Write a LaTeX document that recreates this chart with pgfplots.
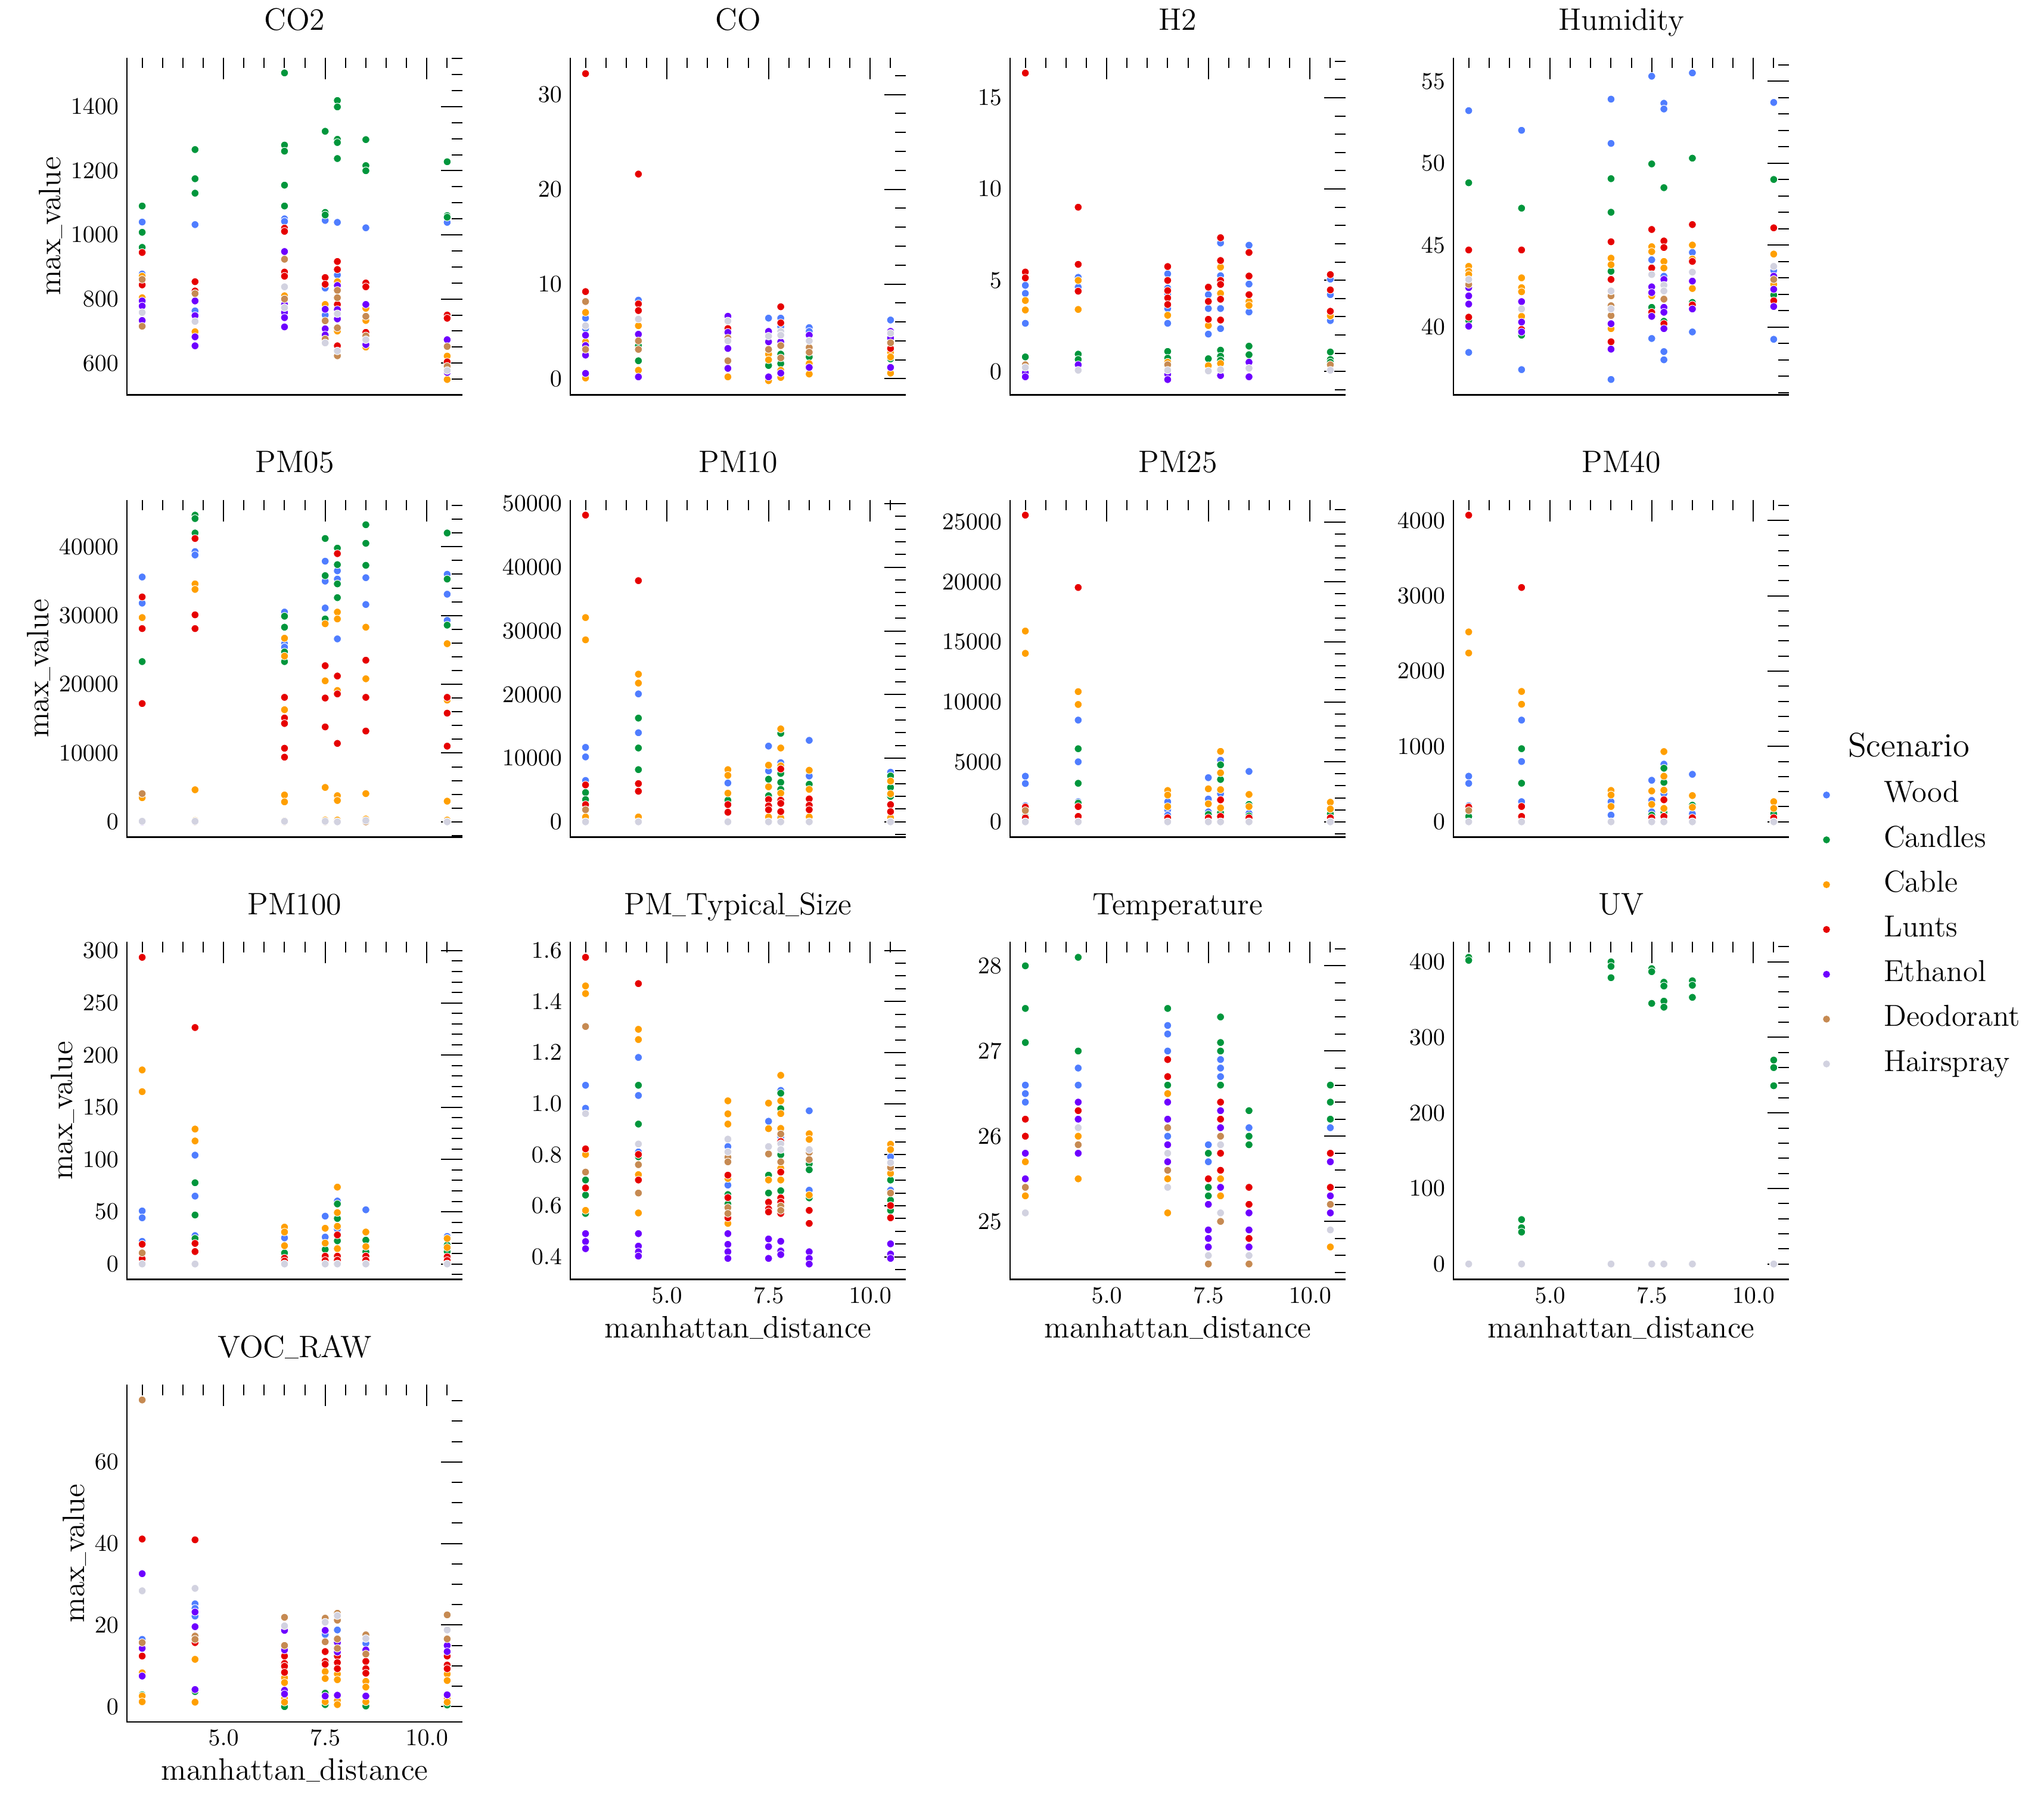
\documentclass[border=0pt]{standalone}
\usepackage{graphicx}
\usepackage{pgfplots}
\pgfplotsset{compat=1.18}
\newcommand{\us}{\raisebox{0.08em}{\scalebox{0.6}[1]{\_}}}
\definecolor{cWood}{HTML}{4F7DFF}
\definecolor{cCand}{HTML}{00963C}
\definecolor{cCable}{HTML}{FF9F00}
\definecolor{cLunts}{HTML}{E60000}
\definecolor{cEth}{HTML}{6E00FF}
\definecolor{cDeo}{HTML}{C68A52}
\definecolor{cHair}{HTML}{D2D2E0}
\pgfplotsset{
  sc/.style={only marks, mark=*, mark size=1.6pt, color=#1, mark options={fill=#1, draw=white, line width=0.25pt}},
  leg/.style={legend image code/.code={\fill[#1] (4pt,0pt) circle (1.25pt); \path[draw=none,fill=none] (0pt,0pt) -- (28pt,0pt);}},
  panel/.style={
    scale only axis, width=140.75pt, height=141.5pt, anchor=north west,
    xmin=2.625, xmax=10.875,
    xtick={5,7.5,10}, minor xtick={3,3.5,...,10.5},
    xtick pos=right, ytick pos=right, xticklabel pos=left, yticklabel pos=left,
    tick align=inside, major tick length=9pt, minor tick length=4.4pt,
    every tick/.append style={black, line width=0.5pt},
    axis line style={draw=none},
    tick label style={font=\fontsize{10}{12}\selectfont},
    title style={font=\fontsize{13}{15}\selectfont, at={(0.5,1)}, anchor=base, yshift=5.5pt},
    label style={font=\fontsize{13}{15}\selectfont},
    ylabel style={inner sep=0pt},
    xlabel style={at={(axis description cs:0.5,0)}, anchor=base, yshift=-24.4pt},
    xticklabel style={/pgf/number format/fixed, /pgf/number format/fixed zerofill, /pgf/number format/precision=1},
    scaled ticks=false,
    /pgf/number format/1000 sep={},
    after end axis/.code={\draw[black, line width=0.6pt] (rel axis cs:0,1) -- (rel axis cs:0,0) -- (rel axis cs:1,0);},
  },
  nox/.style={xticklabels={}},
}
\begin{document}
\begin{tikzpicture}
\useasboundingbox (0,0) rectangle (857.5pt,-756pt);
% ---------------- CO2
\begin{axis}[panel, nox, at={(53.25pt,-24.125pt)}, title={CO2}, ylabel={max\us value},
  ymin=501, ymax=1553, ytick={600,800,...,1400}, minor ytick={550,600,...,1550}]
\addplot[sc=cWood] coordinates {(3,1040)(3,878)(4.3,1032)(4.3,763)(6.5,1050)(6.5,1042)(7.5,1045)(7.5,834)(7.5,750)(7.8,1039)(7.8,875)(8.5,1022)(10.5,1039)};
\addplot[sc=cCand] coordinates {(3,1090)(3,1008)(3,961)(4.3,1266)(4.3,1175)(4.3,1130)(6.5,1505)(6.5,1280)(6.5,1261)(6.5,1155)(6.5,1090)(7.5,1323)(7.5,1070)(7.5,1062)(7.8,1419)(7.8,1399)(7.8,1298)(7.8,1288)(7.8,1238)(8.5,1297)(8.5,1216)(8.5,1200)(10.5,1228)(10.5,1060)(10.5,1055)};
\addplot[sc=cCable] coordinates {(3,871)(3,804)(4.3,698)(6.5,810)(7.5,783)(7.8,854)(7.8,700)(8.5,771)(8.5,733)(8.5,650)(10.5,622)(10.5,549)};
\addplot[sc=cLunts] coordinates {(3,945)(3,844)(4.3,854)(4.3,825)(6.5,1021)(6.5,1011)(6.5,884)(6.5,871)(7.5,867)(7.5,846)(7.8,917)(7.8,892)(7.8,783)(7.8,654)(8.5,850)(8.5,838)(8.5,696)(10.5,750)(10.5,740)(10.5,604)};
\addplot[sc=cEth] coordinates {(3,794)(3,778)(3,733)(4.3,794)(4.3,748)(4.3,682)(4.3,654)(6.5,948)(6.5,783)(6.5,758)(6.5,742)(6.5,713)(7.5,768)(7.5,707)(7.5,688)(7.8,842)(7.8,767)(7.8,738)(8.5,783)(8.5,658)(10.5,673)(10.5,571)};
\addplot[sc=cDeo] coordinates {(3,861)(3,715)(4.3,817)(6.5,924)(6.5,800)(7.5,732)(7.5,675)(7.8,827)(7.8,804)(7.8,710)(7.8,623)(8.5,746)(8.5,685)(10.5,652)(10.5,590)};
\addplot[sc=cHair] coordinates {(3,758)(4.3,730)(6.5,838)(6.5,773)(7.5,663)(7.8,754)(7.8,638)(8.5,673)(10.5,577)};
\end{axis}
% ---------------- CO
\begin{axis}[panel, nox, at={(239.25pt,-24.125pt)}, title={CO},
  ymin=-1.7, ymax=33.9, ytick={0,10,20,30}, minor ytick={0,2,...,32}]
\addplot[sc=cWood] coordinates {(3,6.4)(3,5.3)(4.3,8.3)(7.5,6.4)(7.8,6.4)(7.8,5.5)(8.5,5.4)(8.5,5.0)(10.5,6.2)};
\addplot[sc=cCand] coordinates {(4.3,3.5)(4.3,1.9)(7.5,1.4)(7.8,2.6)(7.8,1.6)(8.5,2.3)(10.5,2.1)};
\addplot[sc=cCable] coordinates {(3,7.0)(3,3.9)(3,0.08)(4.3,5.6)(4.3,0.9)(6.5,0.2)(7.5,2.6)(7.5,2.0)(7.5,-0.2)(7.8,0.9)(7.8,0.14)(8.5,1.6)(8.5,0.5)(10.5,2.8)(10.5,2.3)(10.5,0.6)};
\addplot[sc=cLunts] coordinates {(3,32.2)(3,9.2)(4.3,21.6)(4.3,7.9)(4.3,7.2)(6.5,5.3)(7.8,7.6)(7.8,5.9)(10.5,3.2)};
\addplot[sc=cEth] coordinates {(3,4.6)(3,3.5)(3,2.5)(3,0.57)(4.3,4.7)(4.3,0.2)(6.5,6.6)(6.5,4.9)(6.5,3.2)(6.5,1.1)(7.5,5.0)(7.5,3.9)(7.5,0.2)(7.8,3.9)(7.8,0.6)(8.5,4.6)(8.5,1.2)(10.5,5.0)(10.5,4.3)(10.5,1.2)};
\addplot[sc=cDeo] coordinates {(3,8.15)(3,3.1)(4.3,4.0)(4.3,3.1)(6.5,4.3)(6.5,1.9)(7.5,3.1)(7.8,3.5)(7.8,2.2)(8.5,3.3)(8.5,2.8)(10.5,3.8)};
\addplot[sc=cHair] coordinates {(3,5.6)(4.3,6.3)(6.5,6.1)(6.5,4.0)(7.5,4.5)(7.8,5.0)(7.8,4.6)(8.5,4.0)(10.5,4.8)};
\end{axis}
% ---------------- H2
\begin{axis}[panel, nox, at={(423.75pt,-24.125pt)}, title={H2},
  ymin=-1.28, ymax=17.2, ytick={0,5,10,15}, minor ytick={-1,0,...,17}]
\addplot[sc=cWood] coordinates {(3,4.72)(3,4.28)(3,2.64)(4.3,5.16)(4.3,4.62)(6.5,5.35)(6.5,4.57)(6.5,4.25)(6.5,3.45)(6.5,2.64)(7.5,4.21)(7.5,3.45)(7.5,2.05)(7.8,7.04)(7.8,5.25)(7.8,3.45)(7.8,2.35)(8.5,6.92)(8.5,4.79)(8.5,3.26)(10.5,5.06)(10.5,4.21)(10.5,2.79)};
\addplot[sc=cCand] coordinates {(3,0.8)(4.3,0.95)(4.3,0.66)(6.5,1.1)(6.5,0.73)(7.5,0.7)(7.8,1.17)(7.8,0.84)(7.8,0.62)(8.5,1.39)(8.5,0.92)(10.5,1.07)(10.5,0.66)(10.5,0.51)};
\addplot[sc=cCable] coordinates {(3,3.89)(3,3.37)(4.3,4.99)(4.3,3.4)(6.5,3.08)(6.5,0.51)(7.5,2.52)(7.5,0.32)(7.8,5.72)(7.8,4.28)(7.8,0.44)(8.5,3.84)(8.5,3.62)(10.5,3.05)};
\addplot[sc=cLunts] coordinates {(3,16.35)(3,5.45)(3,5.13)(4.3,9.0)(4.3,5.87)(4.3,4.4)(6.5,5.75)(6.5,4.99)(6.5,4.43)(6.5,4.03)(6.5,3.67)(7.5,4.62)(7.5,3.84)(7.5,2.86)(7.8,7.33)(7.8,6.08)(7.8,4.99)(7.8,4.77)(7.8,3.96)(7.8,2.82)(8.5,6.52)(8.5,5.23)(8.5,4.21)(10.5,5.31)(10.5,4.47)(10.5,3.3)};
\addplot[sc=cEth] coordinates {(3,-0.07)(3,-0.29)(4.3,0.37)(6.5,-0.15)(6.5,-0.44)(7.8,-0.22)(8.5,0.51)(8.5,-0.29)};
\addplot[sc=cDeo] coordinates {(3,0.37)(6.5,0.37)(10.5,0.37)};
\addplot[sc=cHair] coordinates {(3,0.22)(4.3,0.07)(6.5,0.07)(7.5,0.03)(7.8,0.1)(8.5,0.18)(10.5,0.07)};
\end{axis}
% ---------------- Humidity
\begin{axis}[panel, nox, at={(609.75pt,-24.125pt)}, title={Humidity},
  ymin=35.86, ymax=56.44, ytick={40,45,50,55}, minor ytick={36,37,...,56}]
\addplot[sc=cWood] coordinates {(3,53.2)(3,38.45)(4.3,52.0)(4.3,37.4)(6.5,53.9)(6.5,51.2)(6.5,36.8)(7.5,55.3)(7.5,44.1)(7.5,39.3)(7.8,53.65)(7.8,53.3)(7.8,43.1)(7.8,38.5)(7.8,38.0)(8.5,55.5)(8.5,44.55)(8.5,39.7)(10.5,53.7)(10.5,43.45)(10.5,39.25)};
\addplot[sc=cCand] coordinates {(3,48.8)(3,40.4)(4.3,47.25)(4.3,39.5)(6.5,49.05)(6.5,47.0)(6.5,43.4)(7.5,49.95)(7.5,41.2)(7.8,48.5)(7.8,40.35)(8.5,50.3)(8.5,41.5)(10.5,49.0)(10.5,41.95)};
\addplot[sc=cCable] coordinates {(3,43.7)(3,43.4)(3,43.2)(4.3,43.0)(4.3,42.4)(4.3,42.15)(4.3,40.65)(6.5,44.2)(6.5,43.8)(6.5,39.9)(7.5,44.9)(7.5,44.6)(7.5,41.9)(7.8,44.0)(7.8,43.6)(8.5,45.0)(8.5,44.15)(8.5,42.35)(10.5,44.45)(10.5,42.6)};
\addplot[sc=cLunts] coordinates {(3,44.7)(3,40.6)(4.3,44.7)(4.3,39.85)(6.5,45.2)(6.5,42.9)(6.5,39.1)(7.5,45.95)(7.5,43.6)(7.5,40.9)(7.8,45.25)(7.8,44.85)(7.8,40.2)(8.5,46.25)(8.5,44.0)(8.5,41.35)(10.5,46.05)(10.5,41.6)};
\addplot[sc=cEth] coordinates {(3,42.4)(3,41.9)(3,41.4)(3,40.05)(4.3,41.55)(4.3,40.3)(4.3,39.7)(6.5,40.2)(6.5,38.65)(7.5,42.45)(7.5,42.1)(7.5,40.65)(7.8,42.9)(7.8,41.2)(7.8,40.9)(7.8,39.9)(8.5,42.8)(8.5,41.1)(10.5,43.1)(10.5,42.3)(10.5,41.25)};
\addplot[sc=cDeo] coordinates {(3,42.6)(6.5,41.9)(6.5,41.3)(6.5,40.7)(7.8,41.7)(10.5,42.9)};
\addplot[sc=cHair] coordinates {(3,42.9)(4.3,41.1)(6.5,42.2)(6.5,41.1)(7.5,43.2)(7.8,42.55)(7.8,42.2)(8.5,43.35)(10.5,43.7)};
\end{axis}
% ---------------- PM05
\begin{axis}[panel, nox, at={(53.25pt,-209.625pt)}, title={PM05}, ylabel={max\us value},
  ymin=-2230, ymax=46830, ytick={0,10000,...,40000}, minor ytick={-2000,0,...,46000}]
\addplot[sc=cWood] coordinates {(3,35600)(3,31800)(4.3,39300)(4.3,38800)(6.5,30500)(6.5,25900)(6.5,25400)(7.5,37900)(7.5,35000)(7.5,31100)(7.8,36500)(7.8,35300)(7.8,26600)(8.5,35500)(8.5,31600)(10.5,36000)(10.5,33100)(10.5,29300)};
\addplot[sc=cCand] coordinates {(3,23300)(4.3,44600)(4.3,44100)(4.3,42000)(6.5,29900)(6.5,28300)(6.5,24700)(6.5,23300)(7.5,41200)(7.5,35800)(7.5,29500)(7.8,39800)(7.8,37400)(7.8,34600)(7.8,32600)(8.5,43200)(8.5,40500)(8.5,37300)(10.5,42000)(10.5,35300)(10.5,28600)};
\addplot[sc=cCable] coordinates {(3,29700)(3,3500)(3,100)(4.3,34600)(4.3,33800)(4.3,4660)(4.3,200)(6.5,26700)(6.5,24100)(6.5,16300)(6.5,3900)(6.5,2900)(6.5,150)(7.5,28800)(7.5,20500)(7.5,5000)(7.5,250)(7.8,30500)(7.8,29500)(7.8,19100)(7.8,3800)(7.8,3100)(7.8,250)(8.5,28300)(8.5,20800)(8.5,4100)(8.5,400)(10.5,25900)(10.5,17700)(10.5,3000)(10.5,250)};
\addplot[sc=cLunts] coordinates {(3,32700)(3,28100)(3,17200)(4.3,41200)(4.3,30100)(4.3,28100)(6.5,18100)(6.5,15100)(6.5,14300)(6.5,10700)(6.5,9400)(7.5,22700)(7.5,18000)(7.5,13800)(7.8,39000)(7.8,21200)(7.8,18600)(7.8,11400)(8.5,23500)(8.5,18100)(8.5,13200)(10.5,18100)(10.5,15800)(10.5,11000)};
\addplot[sc=cEth] coordinates {(3,0)(4.3,0)(6.5,0)(7.5,0)(7.8,0)(8.5,0)(10.5,0)};
\addplot[sc=cDeo] coordinates {(3,4100)(4.3,0)(6.5,0)(7.5,0)(7.8,0)(8.5,0)(10.5,0)};
\addplot[sc=cHair] coordinates {(3,80)(4.3,80)(6.5,80)(7.5,80)(7.8,0)(8.5,190)(10.5,0)};
\end{axis}
% ---------------- PM10
\begin{axis}[panel, nox, at={(239.25pt,-209.625pt)}, title={PM10},
  ymin=-2410, ymax=50610, ytick={0,10000,...,50000}, minor ytick={-2000,0,...,50000}]
\addplot[sc=cWood] coordinates {(3,11700)(3,10200)(3,6500)(4.3,20100)(4.3,14000)(6.5,6100)(7.5,11900)(7.5,8000)(7.8,9300)(8.5,12800)(8.5,7200)(10.5,7800)};
\addplot[sc=cCand] coordinates {(3,4600)(3,3500)(4.3,16300)(4.3,11600)(4.3,8200)(6.5,3400)(7.5,6700)(7.5,4100)(7.8,13900)(7.8,7600)(7.8,6200)(7.8,5100)(8.5,5900)(10.5,7200)(10.5,5400)(10.5,4000)};
\addplot[sc=cCable] coordinates {(3,32100)(3,28600)(3,760)(4.3,23200)(4.3,21800)(4.3,760)(6.5,8200)(6.5,7300)(6.5,4500)(7.5,8900)(7.5,5500)(7.5,760)(7.8,14600)(7.8,11600)(7.8,8800)(7.8,4500)(7.8,630)(8.5,8100)(8.5,5100)(8.5,760)(10.5,6400)(10.5,4400)(10.5,630)};
\addplot[sc=cLunts] coordinates {(3,48200)(3,5800)(3,2700)(4.3,37900)(4.3,6000)(4.3,4800)(6.5,2700)(6.5,1500)(7.5,3500)(7.5,2500)(7.5,1900)(7.8,8300)(7.8,3400)(7.8,2900)(7.8,1600)(8.5,3600)(8.5,2600)(8.5,1900)(10.5,2700)(10.5,1600)};
\addplot[sc=cEth] coordinates {(3,0)(4.3,0)(6.5,0)(7.5,0)(7.8,0)(8.5,0)(10.5,0)};
\addplot[sc=cDeo] coordinates {(3,1900)(4.3,0)(6.5,0)(7.5,0)(7.8,0)(8.5,0)(10.5,0)};
\addplot[sc=cHair] coordinates {(3,0)(4.3,0)(6.5,0)(7.5,0)(7.8,0)(8.5,0)(10.5,0)};
\end{axis}
% ---------------- PM25
\begin{axis}[panel, nox, at={(423.75pt,-209.625pt)}, title={PM25},
  ymin=-1278, ymax=26840, ytick={0,5000,...,25000}, minor ytick={-1000,0,...,26000}]
\addplot[sc=cWood] coordinates {(3,3800)(3,3190)(3,1340)(4.3,8480)(4.3,5000)(4.3,1670)(6.5,1670)(6.5,1000)(6.5,560)(7.5,3680)(7.5,1900)(7.5,830)(7.8,5130)(7.8,2340)(8.5,4200)(8.5,710)};
\addplot[sc=cCand] coordinates {(3,450)(4.3,6090)(4.3,3210)(4.3,1560)(7.5,620)(7.8,4750)(7.8,3530)(7.8,780)(8.5,1450)(8.5,490)(10.5,670)};
\addplot[sc=cCable] coordinates {(3,15900)(3,14040)(4.3,10850)(4.3,9780)(6.5,2610)(6.5,2230)(6.5,1270)(7.5,2750)(7.5,1500)(7.8,5870)(7.8,4080)(7.8,2680)(7.8,1160)(8.5,2280)(8.5,1270)(10.5,1630)(10.5,1070)};
\addplot[sc=cLunts] coordinates {(3,25560)(3,1230)(3,330)(4.3,19530)(4.3,1270)(4.3,450)(6.5,330)(7.5,330)(7.8,1830)(7.8,450)(8.5,330)(10.5,330)};
\addplot[sc=cEth] coordinates {(3,0)(4.3,0)(6.5,0)(7.5,0)(7.8,0)(8.5,0)(10.5,0)};
\addplot[sc=cDeo] coordinates {(3,940)(4.3,0)(6.5,0)(7.5,0)(7.8,0)(8.5,0)(10.5,0)};
\addplot[sc=cHair] coordinates {(3,0)(4.3,0)(6.5,0)(7.5,0)(7.8,0)(8.5,0)(10.5,0)};
\end{axis}
% ---------------- PM40 (carries the legend)
\begin{axis}[panel, nox, at={(609.75pt,-209.625pt)}, title={PM40},
  ymin=-204, ymax=4274, ytick={0,1000,...,4000}, minor ytick={-200,0,...,4200},
  legend cell align=left,
  legend style={draw=none, fill=none, at={(1.0835,0.1673)}, anchor=north west, inner sep=0pt, outer sep=0pt,
    row sep=6.8pt, column sep=0pt, font=\fontsize{12.7}{15}\selectfont,
    nodes={inner sep=0pt, text height=9pt, text depth=3pt}}]
\addplot[sc=cWood, forget plot] coordinates {(3,605)(3,510)(3,213)(4.3,1350)(4.3,800)(4.3,267)(6.5,267)(6.5,89)(7.5,551)(7.5,284)(7.5,132)(7.8,765)(7.8,373)(8.5,630)(8.5,107)};
\addplot[sc=cCand, forget plot] coordinates {(3,71)(4.3,970)(4.3,512)(7.5,89)(7.8,711)(7.8,523)(7.8,124)(8.5,220)(10.5,107)};
\addplot[sc=cCable, forget plot] coordinates {(3,2520)(3,2240)(4.3,1730)(4.3,1560)(6.5,416)(6.5,356)(6.5,203)(7.5,409)(7.5,231)(7.8,932)(7.8,605)(7.8,420)(7.8,178)(8.5,348)(8.5,192)(10.5,267)(10.5,178)};
\addplot[sc=cLunts, forget plot] coordinates {(3,4070)(3,196)(4.3,3110)(4.3,203)(4.3,71)(7.5,53)(7.8,292)(7.8,71)(8.5,53)(10.5,53)};
\addplot[sc=cEth, forget plot] coordinates {(3,0)(4.3,0)(6.5,0)(7.5,0)(7.8,0)(8.5,0)(10.5,0)};
\addplot[sc=cDeo, forget plot] coordinates {(3,150)(4.3,0)(6.5,0)(7.5,0)(7.8,0)(8.5,0)(10.5,0)};
\addplot[sc=cHair, forget plot] coordinates {(3,0)(4.3,0)(6.5,0)(7.5,0)(7.8,0)(8.5,0)(10.5,0)};
\addlegendimage{leg=cWood}
\addlegendentry{Wood}
\addlegendimage{leg=cCand}
\addlegendentry{Candles}
\addlegendimage{leg=cCable}
\addlegendentry{Cable}
\addlegendimage{leg=cLunts}
\addlegendentry{Lunts}
\addlegendimage{leg=cEth}
\addlegendentry{Ethanol}
\addlegendimage{leg=cDeo}
\addlegendentry{Deodorant}
\addlegendimage{leg=cHair}
\addlegendentry{Hairspray}
\end{axis}
% ---------------- PM100
\begin{axis}[panel, nox, at={(53.25pt,-395.1pt)}, title={PM100}, ylabel={max\us value},
  ymin=-14.7, ymax=308.3, ytick={0,50,...,300}, minor ytick={-10,0,...,300}]
\addplot[sc=cWood] coordinates {(3,50.8)(3,44.2)(3,21.7)(4.3,104.2)(4.3,65)(4.3,27.2)(6.5,25)(7.5,45.8)(7.5,25.8)(7.8,60.3)(7.8,33.3)(8.5,51.9)(10.5,26.4)};
\addplot[sc=cCand] coordinates {(4.3,77.8)(4.3,46.9)(4.3,24.4)(6.5,10.6)(7.5,13.9)(7.8,57.5)(7.8,43.6)(7.8,22.2)(8.5,22.8)(8.5,11.7)(10.5,18.1)(10.5,11.9)};
\addplot[sc=cCable] coordinates {(3,185.8)(3,165)(4.3,129.2)(4.3,117.8)(6.5,35.3)(6.5,30.6)(6.5,17.5)(7.5,34.2)(7.5,20)(7.8,73.6)(7.8,49.2)(7.8,36.1)(7.8,14.7)(8.5,30.6)(8.5,16.7)(10.5,24.4)(10.5,15.8)};
\addplot[sc=cLunts] coordinates {(3,293.6)(3,18.9)(3,5)(4.3,226.4)(4.3,19.7)(4.3,11.9)(6.5,5.6)(6.5,2.8)(7.5,7.5)(7.5,3.3)(7.8,27.8)(7.8,7.5)(7.8,3.6)(8.5,7.5)(8.5,3.6)(10.5,6.9)(10.5,3.3)};
\addplot[sc=cEth] coordinates {(3,0)(4.3,0)(6.5,0)(7.5,0)(7.8,0)(8.5,0)(10.5,0)};
\addplot[sc=cDeo] coordinates {(3,10.6)(4.3,0)(6.5,0)(7.5,0)(7.8,0)(8.5,0)(10.5,0)};
\addplot[sc=cHair] coordinates {(3,0)(4.3,0)(6.5,0)(7.5,0)(7.8,0)(8.5,0)(10.5,0)};
\end{axis}
% ---------------- PM_Typical_Size
\begin{axis}[panel, at={(239.25pt,-395.1pt)}, title={PM\us Typical\us Size}, xlabel={manhattan\us distance},
  ymin=0.312, ymax=1.633, ytick={0.4,0.6,0.8,1.0,1.2,1.4,1.6},
  minor ytick={0.35,0.4,0.45,0.5,0.55,0.6,0.65,0.7,0.75,0.8,0.85,0.9,0.95,1.0,1.05,1.1,1.15,1.2,1.25,1.3,1.35,1.4,1.45,1.5,1.55,1.6},
  yticklabel style={/pgf/number format/fixed, /pgf/number format/fixed zerofill, /pgf/number format/precision=1}]
\addplot[sc=cWood] coordinates {(3,1.072)(3,0.982)(4.3,1.181)(4.3,1.032)(4.3,0.811)(6.5,0.832)(6.5,0.681)(7.5,0.931)(7.8,1.052)(7.8,0.870)(8.5,0.972)(8.5,0.661)(10.5,0.792)(10.5,0.661)};
\addplot[sc=cCand] coordinates {(3,0.701)(3,0.642)(3,0.570)(4.3,1.072)(4.3,0.920)(4.3,0.792)(6.5,0.644)(6.5,0.607)(7.5,0.720)(7.5,0.650)(7.8,1.041)(7.8,0.980)(7.8,0.800)(7.8,0.659)(8.5,0.764)(8.5,0.741)(8.5,0.631)(10.5,0.701)(10.5,0.622)(10.5,0.582)};
\addplot[sc=cCable] coordinates {(3,1.461)(3,1.431)(3,0.801)(3,0.582)(4.3,1.291)(4.3,1.251)(4.3,0.722)(4.3,0.572)(6.5,1.011)(6.5,0.960)(6.5,0.920)(6.5,0.707)(6.5,0.531)(7.5,1.002)(7.5,0.902)(7.5,0.701)(7.8,1.111)(7.8,1.011)(7.8,0.961)(7.8,0.903)(7.8,0.747)(7.8,0.701)(8.5,0.882)(8.5,0.860)(8.5,0.642)(10.5,0.841)(10.5,0.820)(10.5,0.727)};
\addplot[sc=cLunts] coordinates {(3,1.573)(3,0.823)(3,0.670)(4.3,1.470)(4.3,0.801)(4.3,0.701)(6.5,0.720)(6.5,0.632)(6.5,0.553)(7.5,0.614)(7.5,0.588)(7.5,0.576)(7.8,0.852)(7.8,0.732)(7.8,0.631)(7.8,0.614)(7.8,0.570)(8.5,0.582)(8.5,0.531)(10.5,0.601)(10.5,0.553)};
\addplot[sc=cEth] coordinates {(3,0.491)(3,0.460)(3,0.432)(4.3,0.491)(4.3,0.442)(4.3,0.420)(4.3,0.403)(6.5,0.491)(6.5,0.449)(6.5,0.420)(6.5,0.394)(7.5,0.470)(7.5,0.440)(7.5,0.394)(7.8,0.461)(7.8,0.423)(7.8,0.409)(8.5,0.420)(8.5,0.394)(8.5,0.372)(10.5,0.451)(10.5,0.411)(10.5,0.394)};
\addplot[sc=cDeo] coordinates {(3,1.302)(3,0.732)(4.3,0.761)(4.3,0.650)(6.5,0.790)(6.5,0.772)(6.5,0.593)(6.5,0.570)(7.5,0.803)(7.8,0.881)(7.8,0.772)(7.8,0.599)(7.8,0.582)(8.5,0.809)(8.5,0.781)(10.5,0.750)(10.5,0.650)};
\addplot[sc=cHair] coordinates {(3,0.961)(4.3,0.842)(6.5,0.861)(6.5,0.811)(7.5,0.832)(7.8,0.843)(7.8,0.820)(8.5,0.820)(10.5,0.769)};
\end{axis}
% ---------------- Temperature
\begin{axis}[panel, at={(423.75pt,-395.1pt)}, title={Temperature}, xlabel={manhattan\us distance},
  ymin=24.32, ymax=28.28, ytick={25,26,27,28}, minor ytick={24.4,24.6,24.8,25,25.2,25.4,25.6,25.8,26,26.2,26.4,26.6,26.8,27,27.2,27.4,27.6,27.8,28,28.2}]
\addplot[sc=cWood] coordinates {(3,26.6)(3,26.5)(3,26.4)(4.3,26.8)(4.3,26.6)(6.5,27.3)(6.5,27.2)(6.5,27.0)(6.5,26.0)(7.5,25.9)(7.5,25.7)(7.8,26.9)(7.8,26.8)(7.8,26.7)(8.5,26.1)(10.5,26.1)};
\addplot[sc=cCand] coordinates {(3,28.0)(3,27.5)(3,27.1)(4.3,28.1)(4.3,27.0)(6.5,27.5)(6.5,26.6)(7.5,25.8)(7.5,25.4)(7.5,25.3)(7.8,27.4)(7.8,27.1)(7.8,27.0)(7.8,26.6)(8.5,26.3)(8.5,26.0)(8.5,25.9)(10.5,26.6)(10.5,26.4)(10.5,26.2)};
\addplot[sc=cCable] coordinates {(3,25.7)(3,25.3)(4.3,26.0)(4.3,25.5)(6.5,26.5)(6.5,25.5)(6.5,25.1)(7.8,25.5)(7.8,25.3)(10.5,24.7)};
\addplot[sc=cLunts] coordinates {(3,26.2)(3,26.0)(4.3,26.3)(6.5,26.9)(6.5,26.7)(7.5,25.5)(7.8,26.4)(7.8,26.2)(7.8,25.8)(7.8,25.6)(8.5,25.4)(8.5,25.2)(8.5,24.8)(10.5,25.8)(10.5,25.4)};
\addplot[sc=cEth] coordinates {(3,25.8)(3,25.5)(4.3,26.4)(4.3,26.2)(4.3,25.8)(6.5,26.4)(6.5,26.2)(6.5,25.9)(6.5,25.7)(7.5,25.2)(7.5,24.9)(7.5,24.8)(7.5,24.7)(7.8,26.3)(7.8,26.1)(7.8,25.4)(8.5,25.1)(8.5,24.9)(8.5,24.7)(10.5,25.7)(10.5,25.3)(10.5,25.1)};
\addplot[sc=cDeo] coordinates {(3,25.4)(4.3,25.9)(6.5,26.1)(6.5,25.6)(7.5,24.5)(7.8,26.0)(7.8,25.0)(8.5,24.5)(10.5,25.2)};
\addplot[sc=cHair] coordinates {(3,25.1)(4.3,26.1)(6.5,25.8)(6.5,25.4)(7.5,24.6)(7.8,25.9)(7.8,25.1)(8.5,24.6)(10.5,24.9)};
\end{axis}
% ---------------- UV
\begin{axis}[panel, at={(609.75pt,-395.1pt)}, title={UV}, xlabel={manhattan\us distance},
  ymin=-20.3, ymax=426.3, ytick={0,100,...,400}, minor ytick={-20,0,...,420}]
\addplot[sc=cWood] coordinates {(3,0)(4.3,0)(6.5,0)(7.5,0)(7.8,0)(8.5,0)(10.5,0)};
\addplot[sc=cCand] coordinates {(3,406)(3,402)(4.3,58.8)(4.3,48)(4.3,42.3)(6.5,400)(6.5,394)(6.5,379)(7.5,391)(7.5,387)(7.5,345)(7.8,373)(7.8,368)(7.8,348)(7.8,340)(8.5,375)(8.5,369)(8.5,353)(10.5,270)(10.5,260)(10.5,236)};
\addplot[sc=cCable] coordinates {(3,0)(4.3,0)(6.5,0)(7.5,0)(7.8,0)(8.5,0)(10.5,0)};
\addplot[sc=cLunts] coordinates {(3,0)(4.3,0)(6.5,0)(7.5,0)(7.8,0)(8.5,0)(10.5,0)};
\addplot[sc=cEth] coordinates {(3,0)(4.3,0)(6.5,0)(7.5,0)(7.8,0)(8.5,0)(10.5,0)};
\addplot[sc=cDeo] coordinates {(3,0)(4.3,0)(6.5,0)(7.5,0)(7.8,0)(8.5,0)(10.5,0)};
\addplot[sc=cHair] coordinates {(3,0)(4.3,0)(6.5,0)(7.5,0)(7.8,0)(8.5,0)(10.5,0)};
\end{axis}
% ---------------- VOC_RAW
\begin{axis}[panel, at={(53.25pt,-580.75pt)}, title={VOC\us RAW}, xlabel={manhattan\us distance}, ylabel={max\us value},
  ymin=-3.76, ymax=78.96, ytick={0,20,40,60}, minor ytick={0,5,...,75}]
\addplot[sc=cWood] coordinates {(3,16.5)(4.3,25.2)(4.3,24.1)(4.3,22.2)(7.5,17.7)(7.8,18.8)(8.5,15.5)};
\addplot[sc=cCand] coordinates {(3,2.9)(4.3,3.7)(6.5,0.0)(7.5,3.3)(7.5,0.5)(8.5,0.15)(10.5,0.4)};
\addplot[sc=cCable] coordinates {(3,8.3)(3,2.6)(3,1.2)(4.3,11.6)(4.3,1.1)(6.5,7.1)(6.5,5.9)(6.5,2.0)(6.5,1.1)(7.5,8.6)(7.5,6.9)(7.5,1.2)(7.8,8.0)(7.8,6.6)(7.8,1.5)(7.8,0.5)(8.5,6.2)(8.5,4.8)(8.5,1.2)(10.5,8.0)(10.5,6.4)(10.5,2.0)(10.5,1.1)};
\addplot[sc=cLunts] coordinates {(3,41.1)(3,12.4)(4.3,40.9)(4.3,15.7)(6.5,12.4)(6.5,10.6)(6.5,9.9)(6.5,8.4)(7.5,13.5)(7.5,11.1)(7.5,10.4)(7.8,12.4)(7.8,10.8)(7.8,9.3)(8.5,11.1)(8.5,9.3)(8.5,8.2)(10.5,12.4)(10.5,10.2)(10.5,9.3)};
\addplot[sc=cEth] coordinates {(3,32.6)(3,14.3)(3,7.5)(4.3,23.2)(4.3,19.6)(4.3,4.2)(6.5,18.7)(6.5,13.9)(6.5,4.0)(6.5,3.1)(7.5,18.7)(7.5,2.6)(7.8,15.7)(7.8,13.4)(7.8,2.8)(8.5,13.9)(8.5,2.6)(10.5,15.0)(10.5,13.5)(10.5,2.9)};
\addplot[sc=cDeo] coordinates {(3,75.2)(3,15.7)(4.3,17.3)(4.3,16.5)(6.5,21.9)(6.5,15.0)(7.5,21.7)(7.5,15.9)(7.8,22.9)(7.8,21.2)(7.8,16.6)(7.8,14.3)(8.5,17.6)(8.5,12.9)(10.5,22.5)(10.5,16.6)};
\addplot[sc=cHair] coordinates {(3,28.4)(4.3,29.0)(6.5,19.8)(7.5,20.7)(7.8,22.3)(8.5,16.7)(10.5,18.8)};
\end{axis}
% legend title
\node[anchor=base, inner sep=0pt, font=\fontsize{14.2}{17}\selectfont] at (800.75pt,-317.4pt) {Scenario};
\end{tikzpicture}
\end{document}
